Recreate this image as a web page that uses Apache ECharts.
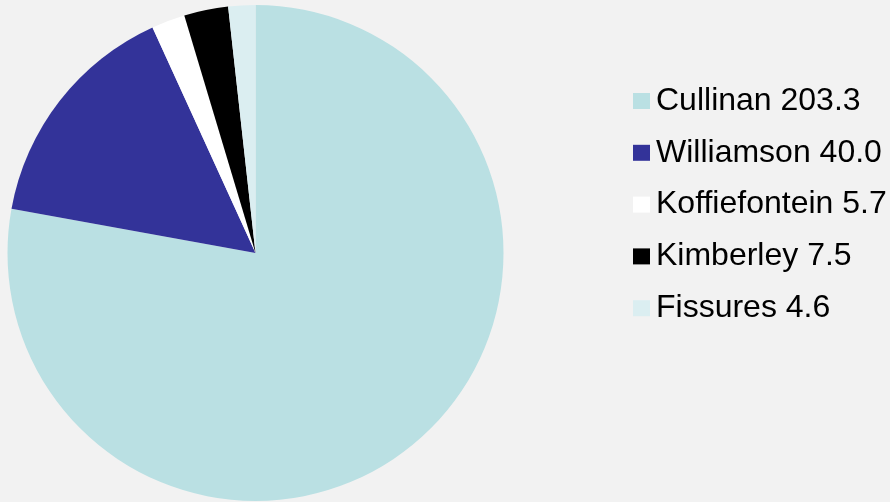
<!DOCTYPE html>
<html><head><meta charset="utf-8">
<script src="https://cdn.jsdelivr.net/npm/echarts@6/dist/echarts.min.js"></script>
<style>html,body{margin:0;padding:0;background:#f2f2f2;}#c{width:890px;height:502px;}</style>
</head><body><div id="c"></div>
<script>
const categories = ['Cullinan', 'Williamson', 'Koffiefontein', 'Kimberley', 'Fissures'];
const values = [203.3, 40.0, 5.7, 7.5, 4.6];
const colors = ['#bae0e3', '#333399', '#ffffff', '#000000', '#dbeef1'];

const chart = echarts.init(document.getElementById('c'));
chart.setOption({
  backgroundColor: '#f2f2f2',
  animation: false,
  legend: {
    orient: 'vertical',
    left: 633,
    top: 85,
    padding: 0,
    itemWidth: 17,
    itemHeight: 16,
    itemGap: 19.8,
    icon: 'rect',
    data: categories,
    formatter: function (name) {
      const i = categories.indexOf(name);
      return name + ' ' + values[i].toFixed(1);
    },
    textStyle: { fontFamily: 'Liberation Sans, Arial, sans-serif', fontSize: 32, color: '#000', lineHeight: 32, padding: [0, 0, 0, 1] }
  },
  series: [{
    type: 'pie',
    center: [255.5, 253],
    radius: 248,
    startAngle: 90,
    clockwise: true,
    label: { show: false },
    labelLine: { show: false },
    emphasis: { disabled: true },
    itemStyle: { borderWidth: 0 },
    data: categories.map((c, i) => ({ name: c, value: values[i], itemStyle: { color: colors[i] } }))
  }]
});
</script></body></html>
